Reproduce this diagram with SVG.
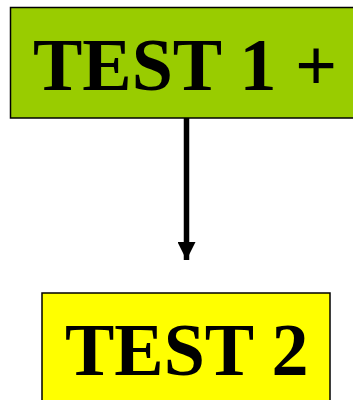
<svg xmlns="http://www.w3.org/2000/svg" width="353" height="400" viewBox="0 0 353 400">
  <style>
    .box { stroke: #000; stroke-width: 1.5; }
    .label { font-family: "Liberation Serif", "Times New Roman", serif; font-weight: bold; font-size: 74px; fill: #000; }
  </style>
  <defs>
    <marker id="arrowhead" markerUnits="userSpaceOnUse" markerWidth="18" markerHeight="18" refX="18" refY="9" orient="auto">
      <path d="M0,0 L18,9 L0,18 Z" fill="#000"/>
    </marker>
  </defs>
  <g id="connectors">
    <line x1="186.5" y1="118" x2="186.5" y2="260" stroke="#000" stroke-width="5.5" marker-end="url(#arrowhead)"/>
  </g>
  <g id="node-test1">
    <rect class="box" x="10.5" y="7.5" width="350" height="110.5" fill="#99CC00"/>
    <text class="label" x="33" y="90">TEST 1 +</text>
  </g>
  <g id="node-test2">
    <rect class="box" x="42" y="293" width="288" height="120" fill="#FFFF00"/>
    <text class="label" x="65" y="375">TEST 2</text>
  </g>
</svg>
